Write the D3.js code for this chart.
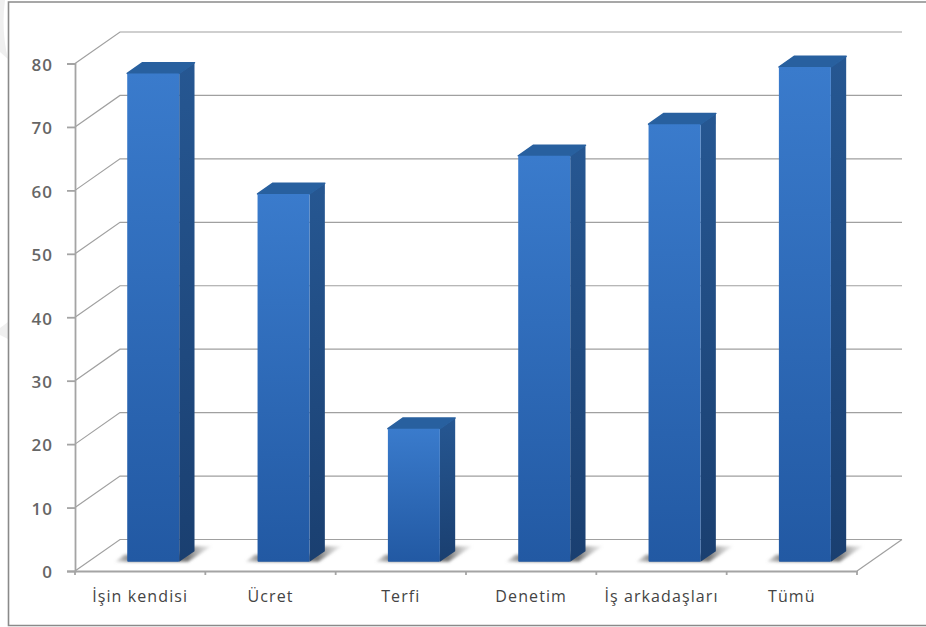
<!DOCTYPE html>
<html lang="tr">
<head>
<meta charset="utf-8">
<title>Grafik</title>
<script src="https://cdn.jsdelivr.net/npm/d3@7"></script>
<style>
  html, body { margin: 0; padding: 0; background: #fff; }
  svg { display: block; }
  text { font-family: "Open Sans", "DejaVu Sans", sans-serif; }
</style>
</head>
<body>
<div id="chart"></div>
<script>
const categories = ['İşin kendisi', 'Ücret', 'Terfi', 'Denetim', 'İş arkadaşları', 'Tümü']
const values = [77, 58, 21, 64, 69, 78]
const yTicks = [0, 10, 20, 30, 40, 50, 60, 70, 80]

const width = 926
const height = 627
const plot = { left: 75, right: 857, top: 63.5, bottom: 571 }
// offset of the back wall from the front plane
const wall = { dx: 45, dy: -31.5 }
// bars stand part way into the floor
const barStart = 0.29
const barDepth = 0.34
const barWidth = 52

const svg = d3.select('#chart')
  .append('svg')
  .attr('width', width)
  .attr('height', height)

const defs = svg.append('defs')

function addGradient (id, top, bottom) {
  const g = defs.append('linearGradient')
    .attr('id', id)
    .attr('x1', 0).attr('y1', 0).attr('x2', 0).attr('y2', 1)
  g.append('stop').attr('offset', '0%').attr('stop-color', top)
  g.append('stop').attr('offset', '100%').attr('stop-color', bottom)
}
addGradient('bar-front', '#3a7bcc', '#2259a3')
addGradient('bar-side', '#265792', '#1a3f70')

// floor shadow fades away from the bar
const shadowFade = defs.append('linearGradient')
  .attr('id', 'shadow-fade')
  .attr('x1', 0).attr('y1', 0).attr('x2', 1).attr('y2', 0)
shadowFade.append('stop').attr('offset', '0%').attr('stop-color', '#8a8a8a').attr('stop-opacity', 0.25)
shadowFade.append('stop').attr('offset', '15%').attr('stop-color', '#777').attr('stop-opacity', 0.9)
shadowFade.append('stop').attr('offset', '75%').attr('stop-color', '#666').attr('stop-opacity', 0.9)
shadowFade.append('stop').attr('offset', '100%').attr('stop-color', '#aaa').attr('stop-opacity', 0.15)

defs.append('filter')
  .attr('id', 'soft')
  .attr('x', '-30%').attr('y', '-80%').attr('width', '160%').attr('height', '260%')
  .append('feGaussianBlur')
  .attr('stdDeviation', 1.8)

defs.append('filter')
  .attr('id', 'line-soft')
  .append('feGaussianBlur')
  .attr('stdDeviation', 0.4)

const xScale = d3.scaleBand()
  .domain(categories)
  .range([plot.left, plot.right])

const yScale = d3.scaleLinear()
  .domain([0, 80])
  .range([plot.bottom, plot.top])

// faint page marks behind the chart frame
svg.append('path')
  .attr('d', 'M0,0 L5,0 Q1,30 8,59 L0,52 Z M0,328 L8,322 L8,339 L0,335 Z')
  .attr('fill', '#efefef')

// chart frame, open on the right
svg.append('path')
  .attr('d', `M${width},2 H8.5 V625.5 H${width}`)
  .attr('fill', 'none')
  .attr('stroke', '#8a8a8a')
  .attr('stroke-width', 1.6)

const grid = svg.append('g').attr('filter', 'url(#line-soft)')

// back wall lines with their diagonal run along the side wall
grid.selectAll('path.grid')
  .data(yTicks)
  .join('path')
  .attr('class', 'grid')
  .attr('d', d => {
    const y = yScale(d)
    return `M${plot.left},${y} L${plot.left + wall.dx},${y + wall.dy} H${plot.right + wall.dx}`
  })
  .attr('fill', 'none')
  .attr('stroke', '#a0a0a0')
  .attr('stroke-width', 1.2)

// right edge of the floor
grid.append('line')
  .attr('x1', plot.right)
  .attr('y1', plot.bottom)
  .attr('x2', plot.right + wall.dx)
  .attr('y2', plot.bottom + wall.dy)
  .attr('stroke', '#a0a0a0')
  .attr('stroke-width', 1.2)

const yAxis = d3.axisLeft(yScale)
  .tickValues(yTicks)
  .tickSize(8)
  .tickPadding(14)

const yAxisG = svg.append('g')
  .attr('transform', `translate(${plot.left},0)`)
  .call(yAxis)

const xAxis = d3.axisBottom(xScale)
  .tickSize(0)
  .tickPadding(20)

const xAxisG = svg.append('g')
  .attr('transform', `translate(0,${plot.bottom})`)
  .call(xAxis)

// category ticks sit on the band edges
xAxisG.selectAll('line.edge')
  .data(d3.range(categories.length + 1))
  .join('line')
  .attr('class', 'edge')
  .attr('x1', i => plot.left + i * xScale.bandwidth())
  .attr('x2', i => plot.left + i * xScale.bandwidth())
  .attr('y1', 0)
  .attr('y2', 4)

svg.selectAll('.domain, .tick line, line.edge')
  .attr('stroke', '#a4a4a4')
  .attr('stroke-width', 1.8)

yAxisG.selectAll('text')
  .attr('font-size', 17)
  .attr('font-weight', 600)
  .attr('letter-spacing', 1)
  .attr('dy', '0.4em')
  .attr('fill', '#666')

xAxisG.selectAll('text')
  .attr('font-size', 16)
  .attr('letter-spacing', 1.1)
  .attr('fill', '#444')

const bars = svg.selectAll('g.bar')
  .data(categories.map((name, i) => ({ name, value: values[i] })))
  .join('g')
  .attr('class', 'bar')
  .attr('transform', d => {
    const x = xScale(d.name) + (xScale.bandwidth() - barWidth) / 2 + wall.dx * barStart
    return `translate(${x},${wall.dy * barStart})`
  })

const sideDx = wall.dx * barDepth
const sideDy = wall.dy * barDepth

// floor shadow under each bar
bars.append('path')
  .attr('d', () => {
    const y0 = yScale(0)
    return `M-12,${y0} L-3,${y0 - 7} H${barWidth} L${barWidth + sideDx},${y0 + sideDy - 5} H${barWidth + sideDx + 17} L${barWidth + 9},${y0} Z`
  })
  .attr('fill', 'url(#shadow-fade)')
  .attr('filter', 'url(#soft)')

bars.append('path')
  .attr('d', d => {
    const y0 = yScale(0)
    const y1 = yScale(d.value)
    return `M${barWidth},${y0} L${barWidth + sideDx},${y0 + sideDy} V${y1 + sideDy} L${barWidth},${y1} Z`
  })
  .attr('fill', 'url(#bar-side)')

// top face, with slightly rounded corners
bars.append('path')
  .attr('d', d => {
    const y1 = yScale(d.value)
    return `M0,${y1} L${sideDx},${y1 + sideDy} H${barWidth + sideDx} L${barWidth},${y1} Z`
  })
  .attr('fill', '#28609f')
  .attr('stroke', '#28609f')
  .attr('stroke-width', 1.5)
  .attr('stroke-linejoin', 'round')

bars.append('rect')
  .attr('x', 0)
  .attr('y', d => yScale(d.value))
  .attr('width', barWidth)
  .attr('height', d => yScale(0) - yScale(d.value))
  .attr('rx', 1)
  .attr('fill', 'url(#bar-front)')
</script>
</body>
</html>
